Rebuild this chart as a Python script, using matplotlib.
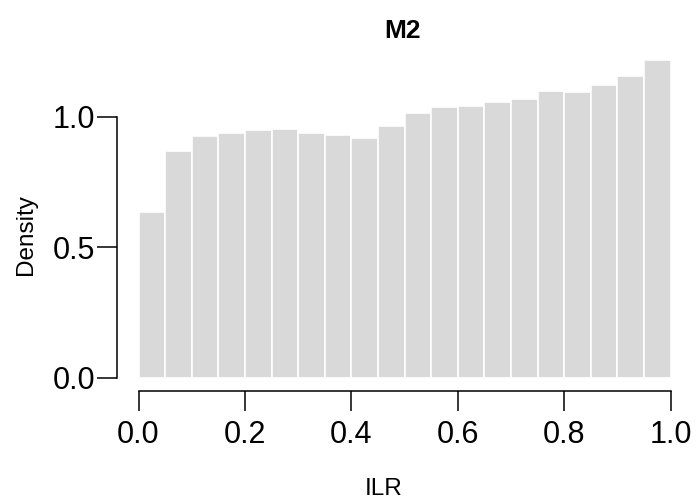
import matplotlib
matplotlib.use("Agg")
import matplotlib.pyplot as plt
import numpy as np

plt.rcParams['font.family'] = ['Liberation Sans', 'DejaVu Sans']

# Data: histogram densities for 20 bins on [0, 1]
bin_edges = [i * 0.05 for i in range(21)]
densities = [0.635, 0.867, 0.925, 0.936, 0.948, 0.953, 0.936, 0.930, 0.918, 0.964,
             1.015, 1.036, 1.042, 1.057, 1.068, 1.097, 1.096, 1.121, 1.157, 1.218]
x_ticks = [0.0, 0.2, 0.4, 0.6, 0.8, 1.0]
y_ticks = [0.0, 0.5, 1.0]
title = "M2"
xlabel = "ILR"
ylabel = "Density"

W, H = 698, 503
fig = plt.figure(figsize=(W / 100, H / 100), dpi=100)

# axes in pixel coordinates (from top-left)
x0_px, x1_px = 138.5, 670.5
y0_px, y1_px = 377.7, 51.45  # y=0 and y=1.25
ax = fig.add_axes([x0_px / W, 1 - y0_px / H, (x1_px - x0_px) / W, (y0_px - y1_px) / H])

lefts = np.array(bin_edges[:-1])
widths = np.diff(bin_edges)
ax.bar(lefts, densities, width=widths, align='edge', color='#D9D9D9',
       edgecolor='white', linewidth=1.2)

ax.set_xlim(0, 1)
ax.set_ylim(0, 1.25)

for s in ['top', 'right']:
    ax.spines[s].set_visible(False)
ax.spines['left'].set_position(('outward', 21.8 * 72 / 100))
ax.spines['bottom'].set_position(('outward', 13.6 * 72 / 100))
ax.spines['left'].set_bounds(0, 1.0)
ax.spines['bottom'].set_bounds(0, 1.0)
for s in ['left', 'bottom']:
    ax.spines[s].set_linewidth(1.1)

ax.set_xticks(x_ticks)
ax.set_xticklabels([f"{v:.1f}" for v in x_ticks])
ax.set_yticks(y_ticks)
ax.set_yticklabels([f"{v:.1f}" for v in y_ticks])
ax.tick_params(axis='both', length=14.4, width=1.1, labelsize=22, colors='black')
ax.tick_params(axis='x', pad=6)
ax.tick_params(axis='y', pad=1)

fig.text(402 / W, 1 - 30.5 / H, title, ha='center', va='center',
         fontsize=19, fontweight='bold')
fig.text(384 / W, 1 - 489 / H, xlabel, ha='center', va='center', fontsize=17.5)
fig.text(26 / W, 1 - 235 / H, ylabel, ha='center', va='center', fontsize=17.5,
         rotation=90)

fig.savefig("out.png", dpi=100)
